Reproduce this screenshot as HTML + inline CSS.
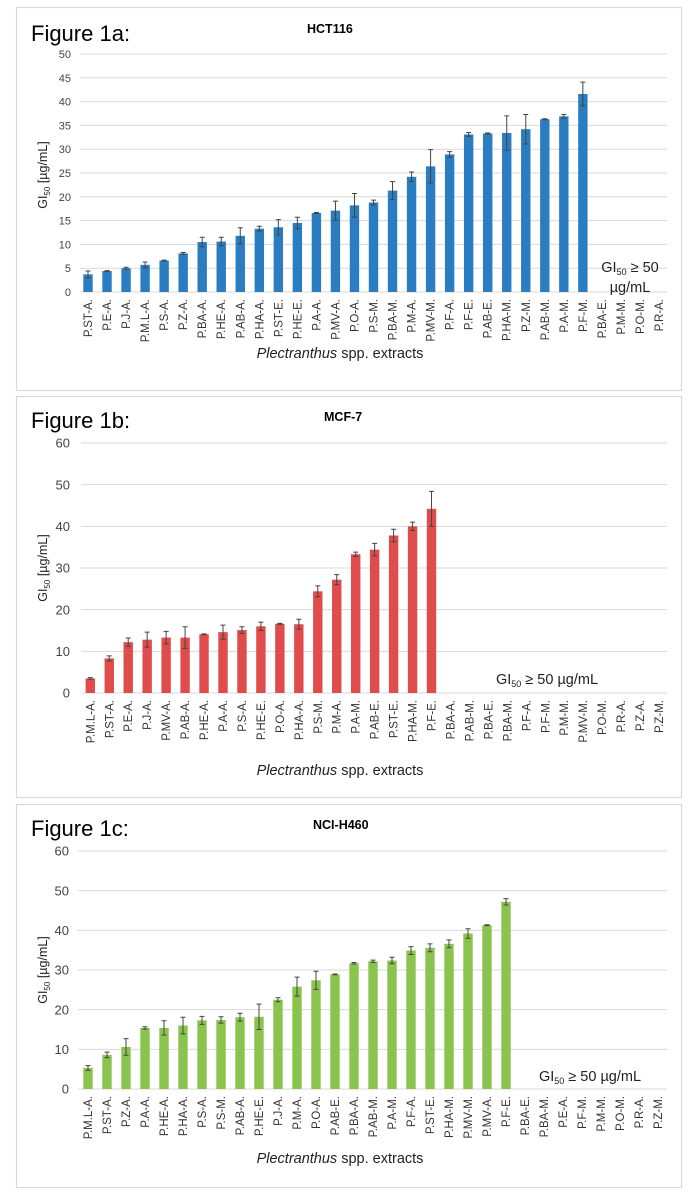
<!DOCTYPE html>
<html><head><meta charset="utf-8">
<style>
body{margin:0;background:#fff;width:696px;height:1196px;overflow:hidden;font-family:"Liberation Sans",Arial,sans-serif;}
svg{position:absolute;left:0;top:0}
</style></head>
<body>
<svg id="fig" width="696" height="1196" xmlns="http://www.w3.org/2000/svg"></svg>
<script>
// ---- Figure 1a: HCT116 ----
const catsA = ["P.ST-A.","P.E-A.","P.J-A.","P.M.L-A.","P.S-A.","P.Z-A.","P.BA-A.","P.HE-A.","P.AB-A.","P.HA-A.","P.ST-E.","P.HE-E.","P.A-A.","P.MV-A.","P.O-A.","P.S-M.","P.BA-M.","P.M-A.","P.MV-M.","P.F-A.","P.F-E.","P.AB-E.","P.HA-M.","P.Z-M.","P.AB-M.","P.A-M.","P.F-M.","P.BA-E.","P.M-M.","P.O-M.","P.R-A."];
const valsA = [3.7,4.4,5.0,5.7,6.6,8.1,10.5,10.6,11.8,13.3,13.6,14.5,16.6,17.1,18.2,18.8,21.3,24.2,26.4,28.9,33.1,33.3,33.4,34.2,36.3,36.9,41.6];
const errsA = [0.7,0.1,0.2,0.6,0.1,0.2,1.0,0.9,1.7,0.5,1.6,1.2,0.1,2.0,2.5,0.5,1.9,1.0,3.5,0.6,0.4,0.1,3.6,3.1,0.1,0.4,2.5];
const ticksA = [0,5,10,15,20,25,30,35,40,45,50];
// ---- Figure 1b: MCF-7 ----
const catsB = ["P.M.L-A.","P.ST-A.","P.E-A.","P.J-A.","P.MV-A.","P.AB-A.","P.HE-A.","P.A-A.","P.S-A.","P.HE-E.","P.O-A.","P.HA-A.","P.S-M.","P.M-A.","P.A-M.","P.AB-E.","P.ST-E.","P.HA-M.","P.F-E.","P.BA-A.","P.AB-M.","P.BA-E.","P.BA-M.","P.F-A.","P.F-M.","P.M-M.","P.MV-M.","P.O-M.","P.R-A.","P.Z-A.","P.Z-M."];
const valsB = [3.5,8.3,12.2,12.8,13.3,13.3,14.1,14.6,15.1,16.0,16.6,16.5,24.4,27.2,33.3,34.4,37.8,40.0,44.2];
const errsB = [0.2,0.6,1.0,1.8,1.5,2.6,0.1,1.7,0.8,1.0,0.1,1.2,1.3,1.2,0.5,1.5,1.5,1.0,4.2];
const ticksB = [0,10,20,30,40,50,60];
// ---- Figure 1c: NCI-H460 ----
const catsC = ["P.M.L-A.","P.ST-A.","P.Z-A.","P.A-A.","P.HE-A.","P.HA-A.","P.S-A.","P.S-M.","P.AB-A.","P.HE-E.","P.J-A.","P.M-A.","P.O-A.","P.AB-E.","P.BA-A.","P.AB-M.","P.A-M.","P.F-A.","P.ST-E.","P.HA-M.","P.MV-M.","P.MV-A.","P.F-E.","P.BA-E.","P.BA-M.","P.E-A.","P.F-M.","P.M-M.","P.O-M.","P.R-A.","P.Z-M."];
const valsC = [5.3,8.6,10.6,15.4,15.4,16.0,17.3,17.4,18.1,18.2,22.5,25.8,27.4,28.9,31.7,32.2,32.4,34.9,35.6,36.6,39.2,41.3,47.2];
const errsC = [0.6,0.7,2.1,0.3,1.8,2.1,1.0,0.8,1.0,3.2,0.5,2.4,2.3,0.1,0.2,0.3,0.8,1.0,1.0,1.0,1.2,0.1,0.8];
const ticksC = [0,10,20,30,40,50,60];

const NS="http://www.w3.org/2000/svg";
const svg=document.getElementById('fig');
function mk(tag,attrs,parent){const e=document.createElementNS(NS,tag);for(const k in attrs)e.setAttribute(k,attrs[k]);(parent||svg).appendChild(e);return e;}

function panel(cfg,cats,vals,errs,ticks){
  const g=mk('g',{});
  
  
  const box=mk('rect',{x:16.5,y:cfg.top+0.5,width:665,height:cfg.bottom-cfg.top,fill:'#fff',stroke:'#d9d9d9','stroke-width':1.2},g);
  
  
  const fl=mk('text',{x:31,y:cfg.figY,'font-size':22,fill:'#000'},g);fl.textContent=cfg.fig;
  
  
  const tt=mk('text',{x:cfg.titleX,y:cfg.titleY,'font-size':12.5,'font-weight':'bold',fill:'#000'},g);tt.textContent=cfg.title;
  
  
  const max=ticks[ticks.length-1];
  const y=v=>cfg.y0-(v/max)*(cfg.y0-cfg.yTop);
  const step=(cfg.xLast-cfg.xFirst)/(cats.length-1);
  const x=i=>cfg.xFirst+i*step;
  ticks.forEach(t=>{
    const l=mk('line',{x1:cfg.plotL,x2:cfg.plotR,y1:y(t),y2:y(t),stroke:'#d9d9d9','stroke-width':1},g);
    
    
    const tx=mk('text',{x:cfg.tickX,y:y(t)+cfg.tickFs*0.36,'font-size':cfg.tickFs,'text-anchor':'end',fill:'#444'},g);tx.textContent=t;
    
    
  });
  vals.forEach((v,i)=>{
    const b=mk('rect',{x:x(i)-4.7,y:y(v),width:9.4,height:cfg.y0-y(v),fill:cfg.color},g);
    
    
    const e=errs[i],hi=y(v+e),lo=y(v-e);
    const eb=mk('path',{d:`M${x(i)},${hi}V${lo}M${x(i)-2.5},${hi}H${x(i)+2.5}M${x(i)-2.5},${lo}H${x(i)+2.5}`,stroke:'#444','stroke-width':1,fill:'none'},g);
    
    
  });
  cats.forEach((c,i)=>{
    const tx=mk('text',{transform:`translate(${x(i)+4},${cfg.y0+7}) rotate(-90)`,'font-size':11.5,'text-anchor':'end',fill:'#333'},g);tx.textContent=c;
    
    
  });
  const yt=mk('text',{transform:`translate(47,${cfg.yTitleC}) rotate(-90)`,'font-size':12.5,'text-anchor':'middle',fill:'#222'},g);
  yt.innerHTML='GI<tspan font-size="8" dy="3">50</tspan><tspan dy="-3"> [µg/mL]</tspan>';
  
  
  const xt=mk('text',{x:340,y:cfg.xTitleY,'font-size':14.5,'text-anchor':'middle',fill:'#222'},g);
  xt.innerHTML='<tspan font-style="italic">Plectranthus</tspan> spp. extracts';
  
  
  cfg.note.forEach(n=>{
    const a=mk('text',{x:n.x,y:n.y,'font-size':14.5,'text-anchor':'middle',fill:'#222'},g);
    a.innerHTML=n.html;
    
    
  });
}
const gi='GI<tspan font-size="9" dy="3">50</tspan><tspan dy="-3">';
panel({name:'chart-hct116',top:7,bottom:390,fig:'Figure 1a:',figY:41,title:'HCT116',titleX:307,titleY:33,
  y0:292,yTop:54,plotL:80,plotR:667,xFirst:88,xLast:659,tickX:71,tickFs:11,color:'#2a7dc1',yTitleC:175,xTitleY:358,
  note:[{x:630,y:272,html:gi+' ≥ 50</tspan>'},{x:630,y:292,html:'µg/mL'}]},catsA,valsA,errsA,ticksA);
panel({name:'chart-mcf7',top:396,bottom:797,fig:'Figure 1b:',figY:428,title:'MCF-7',titleX:324,titleY:421,
  y0:693,yTop:443,plotL:81,plotR:667,xFirst:90.3,xLast:659,tickX:70,tickFs:13,color:'#e04b4b',yTitleC:568,xTitleY:775,
  note:[{x:547,y:684,html:gi+' ≥ 50 µg/mL</tspan>'}]},catsB,valsB,errsB,ticksB);
panel({name:'chart-nci-h460',top:804,bottom:1187,fig:'Figure 1c:',figY:836,title:'NCI-H460',titleX:313,titleY:829,
  y0:1089,yTop:851,plotL:78,plotR:667,xFirst:88,xLast:658,tickX:69,tickFs:13,color:'#8bc34f',yTitleC:970,xTitleY:1163,
  note:[{x:590,y:1081,html:gi+' ≥ 50 µg/mL</tspan>'}]},catsC,valsC,errsC,ticksC);
</script>
</body></html>
